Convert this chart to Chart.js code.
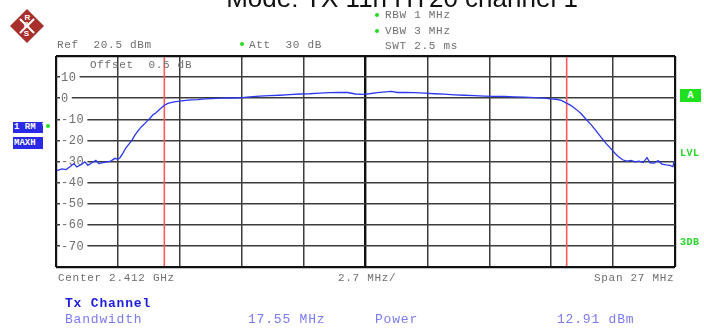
<!DOCTYPE html>
<html>
<head>
<meta charset="utf-8">
<script src="https://cdn.jsdelivr.net/npm/chart.js@4.4.1/dist/chart.umd.min.js"></script>
<style>
  html, body { margin: 0; padding: 0; background: #fff; }
  #wrap { position: relative; width: 704px; height: 334px; overflow: hidden; }
  #wrap canvas { position: absolute; left: 0; top: 0; }
  .t { position: absolute; font-family: 'Liberation Mono', 'DejaVu Sans Mono', monospace; font-size: 11px;
       letter-spacing: 0.7px; color: #6e6e6e; white-space: pre; line-height: 12px; }
  .p { position: absolute; font-family: 'Liberation Mono', 'DejaVu Sans Mono', monospace; font-size: 13px;
       letter-spacing: 0.8px; color: #7a7af2; white-space: pre; line-height: 14px; }
  .dot { position: absolute; width: 4px; height: 4px; border-radius: 2px; background: #22dd22; }
  .title { position: absolute; left: 0; width: 804px; top: -15px; text-align: center;
           font-family: 'Liberation Sans', Arial, sans-serif; font-size: 26px; line-height: 26px; color: #111; }
  .box { position: absolute; background: #2a2ae6; color: #fff; font-family: 'Liberation Mono', monospace;
         font-weight: bold; font-size: 9px; line-height: 11px; overflow: hidden; white-space: pre; padding-left: 1px; }
  .grn { position: absolute; font-family: 'Liberation Mono', monospace; font-weight: bold; font-size: 10px;
         color: #2ad62a; line-height: 12px; letter-spacing: 0.5px; }
  #logo { position: absolute; left: 15px; top: 14px; width: 24px; height: 24px; transform: rotate(45deg);
          background: #a8302c; }
  #logo i { position: absolute; background: #fff; }
  #logo b { position: absolute; color: #fff; font: bold 8px 'Liberation Sans', sans-serif; transform: rotate(-45deg); }
</style>
</head>
<body>
<div id="wrap">
  <canvas id="chart" width="704" height="334"></canvas>

  <div class="title">Mode: TX 11n HT20 channel 1</div>

  <div id="logo">
    <i style="left:11px;top:2px;width:2px;height:20px"></i>
    <i style="left:2px;top:11px;width:20px;height:2px"></i>
    <b style="left:3px;top:1px">R</b><b style="left:8px;top:7px">&amp;</b><b style="left:14px;top:13px">S</b>
  </div>

  <div class="t" style="left:57px;top:39px">Ref  20.5 dBm</div>
  <div class="dot" style="left:240px;top:42px"></div>
  <div class="t" style="left:249px;top:39px">Att  30 dB</div>
  <div class="dot" style="left:375px;top:13px"></div>
  <div class="t" style="left:385px;top:9px">RBW 1 MHz</div>
  <div class="dot" style="left:375px;top:29px"></div>
  <div class="t" style="left:385px;top:25px">VBW 3 MHz</div>
  <div class="t" style="left:385px;top:40px">SWT 2.5 ms</div>
  <div class="t" style="left:90px;top:59px">Offset  0.5 dB</div>

  <div class="box" style="left:13px;top:122px;width:29px;height:11px">1 RM *</div>
  <div class="dot" style="left:46px;top:124px"></div>
  <div class="box" style="left:13px;top:137px;width:29px;height:12px;line-height:12px">MAXH</div>

  <div class="box" style="left:680px;top:89px;width:21px;height:13px;line-height:13px;background:#1fe01f;text-align:center;padding:0;font-size:10px">A</div>
  <div class="grn" style="left:680px;top:148px">LVL</div>
  <div class="grn" style="left:680px;top:237px">3DB</div>

  <div class="t" style="left:58px;top:272px">Center 2.412 GHz</div>
  <div class="t" style="left:338px;top:272px">2.7 MHz/</div>
  <div class="t" style="left:594px;top:272px">Span 27 MHz</div>

  <div class="p" style="left:65px;top:297px;font-weight:bold;color:#1c1cdc">Tx Channel</div>
  <div class="p" style="left:65px;top:313px">Bandwidth</div>
  <div class="p" style="left:248px;top:313px">17.55 MHz</div>
  <div class="p" style="left:375px;top:313px">Power</div>
  <div class="p" style="left:557px;top:313px">12.91 dBm</div>
</div>

<script>
// Frequency offset from the 2.412 GHz centre, in MHz
const traceMHz = [
  -13.46, -13.24, -13.06, -12.89, -12.72, -12.59, -12.41, -12.24, -12.11, -11.93,
  -11.76, -11.63, -11.45, -11.28, -11.11, -10.93, -10.80, -10.71, -10.58, -10.45,
  -10.32, -10.19, -10.06, -9.93, -9.80, -9.67, -9.54, -9.41, -9.28, -9.15,
  -9.01, -8.88, -8.75, -8.62, -8.45, -8.27, -8.10, -7.84, -7.58, -7.32,
  -7.01, -6.71, -6.36, -5.92, -5.49, -5.05, -4.62, -4.18, -3.75, -3.31,
  -2.87, -2.44, -2.00, -1.57, -1.13, -0.78, -0.44, -0.13, 0.17, 0.52,
  0.87, 1.13, 1.39, 1.74, 2.13, 2.57, 3.01, 3.44, 3.88, 4.31,
  4.75, 5.18, 5.62, 6.05, 6.49, 6.92, 7.36, 7.80, 8.06, 8.32,
  8.54, 8.75, 8.97, 9.19, 9.41, 9.62, 9.84, 10.06, 10.28, 10.50,
  10.71, 10.89, 11.06, 11.24, 11.41, 11.58, 11.76, 11.93, 12.11, 12.28,
  12.41, 12.59, 12.76, 12.93, 13.11, 13.28, 13.41, 13.46
];
// Max-hold trace level, dBm
const traceDb = [
  -34.3, -33.5, -33.8, -32.5, -31.0, -32.6, -31.5, -30.2, -31.8, -30.6,
  -29.5, -31.0, -30.5, -30.2, -29.8, -28.5, -29.0, -28.2, -26.0, -23.5,
  -21.8, -20.0, -17.5, -15.6, -13.8, -12.5, -11.0, -9.6, -8.0, -7.0,
  -5.6, -4.3, -3.2, -2.5, -2.0, -1.6, -1.4, -1.0, -0.8, -0.7,
  -0.3, -0.2, 0.0, 0.1, 0.2, 0.6, 1.0, 1.2, 1.4, 1.7,
  2.0, 2.1, 2.4, 2.6, 2.8, 2.7, 2.0, 1.8, 2.1, 2.6,
  3.0, 3.2, 2.7, 2.8, 2.6, 2.4, 2.1, 1.9, 1.6, 1.4,
  1.2, 1.0, 0.9, 0.8, 0.6, 0.5, 0.3, 0.0, -0.3, -0.5,
  -1.0, -2.2, -3.5, -5.3, -7.4, -10.0, -12.5, -15.5, -18.6, -21.5,
  -24.0, -26.2, -28.0, -29.3, -29.8, -29.5, -30.2, -29.8, -30.5, -28.2,
  -30.6, -30.8, -29.6, -31.2, -31.6, -31.8, -32.4, -30.0
];
// Channel bandwidth edges (17.55 MHz wide), MHz
const bandEdgesMHz = [-8.775, 8.775];
// Division lines: 2.7 MHz per division, 10 dB per division
const xGridMHz = [-13.5, -10.8, -8.1, -5.4, -2.7, 0, 2.7, 5.4, 8.1, 10.8, 13.5];
const yGridDb = [-80, -70, -60, -50, -40, -30, -20, -10, 0, 10, 20];
const yTickLabels = [10, 0, -10, -20, -30, -40, -50, -60, -70];

const gridWidth = (edges, centre) => (ctx) => {
  const v = ctx.tick && ctx.tick.value;
  if (edges.includes(v)) return 2.2;
  if (v === centre) return 2.4;
  return 1.5;
};
const gridColor = (edges, centre) => (ctx) => {
  const v = ctx.tick && ctx.tick.value;
  if (edges.includes(v) || v === centre) return '#111';
  return '#3c3c3c';
};

// Level labels inside the screen and the channel limit lines
const screenMarks = {
  id: 'screenMarks',
  beforeDatasetsDraw(chart) {
    const { ctx, chartArea: a, scales: { x, y } } = chart;
    ctx.save();
    ctx.font = "12px 'Liberation Mono', monospace";
    ctx.letterSpacing = '0.6px';
    ctx.textBaseline = 'middle';
    yTickLabels.forEach(v => {
      const py = y.getPixelForValue(v);
      const s = String(v);
      const w = ctx.measureText(s).width;
      ctx.fillStyle = '#fff';
      ctx.fillRect(a.left + 4, py - 3, w + 4, 6);
      ctx.fillStyle = '#6e6e6e';
      ctx.fillText(s, a.left + 5, py + 0.5);
    });
    ctx.strokeStyle = '#ff5a5a';
    ctx.lineWidth = 1.6;
    bandEdgesMHz.forEach(f => {
      const px = x.getPixelForValue(f);
      ctx.beginPath();
      ctx.moveTo(px, a.top + 1);
      ctx.lineTo(px, a.bottom - 1);
      ctx.stroke();
    });
    ctx.restore();
  }
};

new Chart(document.getElementById('chart'), {
  type: 'line',
  data: {
    datasets: [{
      data: traceMHz.map((f, i) => ({ x: f, y: traceDb[i] })),
      borderColor: '#2b38ee',
      borderWidth: 1.3,
      pointRadius: 0,
      tension: 0,
      fill: false
    }]
  },
  options: {
    responsive: false,
    animation: false,
    layout: { padding: { left: 56, top: 56, right: 29, bottom: 67 } },
    plugins: { legend: { display: false }, tooltip: { enabled: false } },
    scales: {
      x: {
        type: 'linear', min: -13.5, max: 13.5,
        afterBuildTicks: s => { s.ticks = xGridMHz.map(v => ({ value: v })); },
        ticks: { display: false },
        grid: { drawTicks: false, lineWidth: gridWidth([-13.5, 13.5], 0), color: gridColor([-13.5, 13.5], 0) },
        border: { display: false }
      },
      y: {
        type: 'linear', min: -80, max: 20,
        afterBuildTicks: s => { s.ticks = yGridDb.map(v => ({ value: v })); },
        ticks: { display: false },
        grid: { drawTicks: false, lineWidth: gridWidth([-80, 20], null), color: gridColor([-80, 20], null) },
        border: { display: false }
      }
    }
  },
  plugins: [screenMarks]
});
</script>
</body>
</html>
